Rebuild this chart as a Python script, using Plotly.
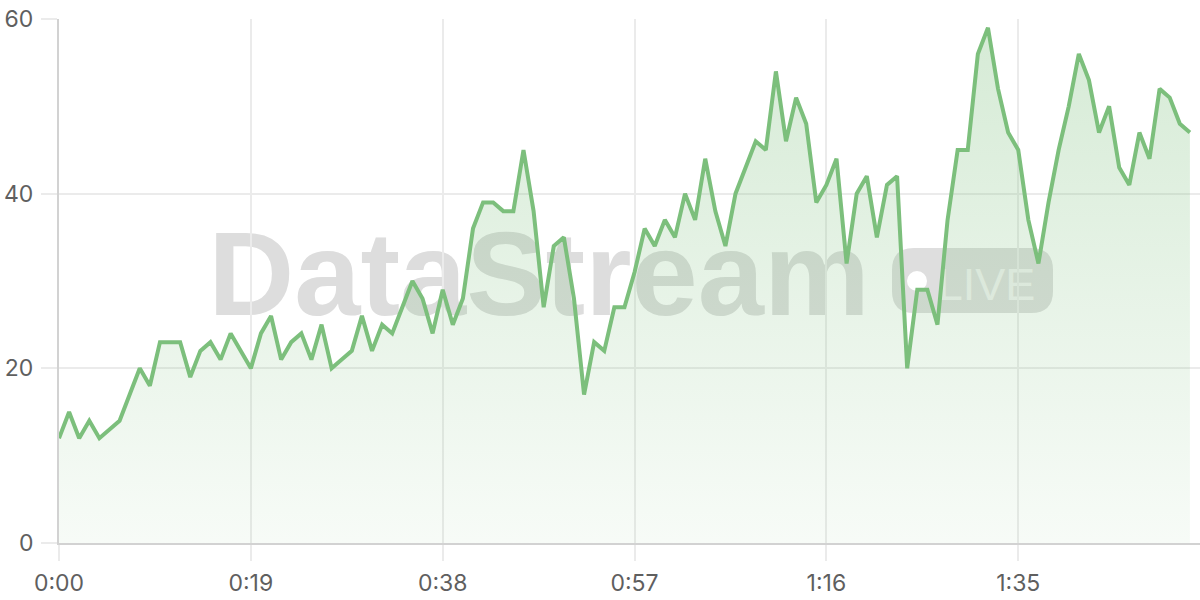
import plotly.graph_objects as go

# ---- data ----
values = [12, 15, 12, 14, 12, 13, 14, 17, 20, 18,
          23, 23, 23, 19, 22, 23, 21, 24, 22, 20,
          24, 26, 21, 23, 24, 21, 25, 20, 21, 22,
          26, 22, 25, 24, 27, 30, 28, 24, 29, 25,
          28, 36, 39, 39, 38, 38, 45, 38, 27, 34,
          35, 28, 17, 23, 22, 27, 27, 31, 36, 34,
          37, 35, 40, 37, 44, 38, 34, 40, 43, 46,
          45, 54, 46, 51, 48, 39, 41, 44, 32, 40,
          42, 35, 41, 42, 20, 29, 29, 25, 37, 45,
          45, 56, 59, 52, 47, 45, 37, 32, 39, 45,
          50, 56, 53, 47, 50, 43, 41, 47, 44, 52,
          51, 48, 47]
seconds = list(range(len(values)))
x_tickvals = [0, 19, 38, 57, 76, 95]
x_ticktext = ["0:00", "0:19", "0:38", "0:57", "1:16", "1:35"]
y_tickvals = [0, 20, 40, 60]
watermark_text = "DataStream"
badge_text = "LIVE"

LINE = "rgb(124,191,124)"
GRID = "#ebebeb"
AXIS = "#d2d2d2"

fig = go.Figure()
fig.add_trace(go.Scatter(
    x=seconds, y=values, mode="lines",
    line=dict(color=LINE, width=4, shape="linear"),
    fill="tozeroy",
    fillgradient=dict(type="vertical", start=0, stop=60,
                      colorscale=[[0, "rgba(124,191,124,0.06)"],
                                  [1, "rgba(124,191,124,0.32)"]]),
    hoverinfo="skip", showlegend=False,
))

# plot area in pixels
L, R, T, B = 59, 1200, 19, 543
def px(xp):
    return (xp - L) / (R - L)
def py(yp):
    return (B - yp) / (B - T)

shapes = []
# watermark text
shapes.append(dict(
    type="rect", xref="paper", yref="paper", layer="below",
    x0=px(198), x1=px(880), y0=py(322), y1=py(202),
    line=dict(width=0), fillcolor="rgba(0,0,0,0)",
    label=dict(text=watermark_text, textposition="middle center",
               font=dict(family="Liberation Sans", size=119, color="#dddddd", weight="bold")),
))
# LIVE badge (rounded rect)
bx0, bx1, by0, by1, r = 892, 1053, 248, 313, 22
path = (f"M {px(bx0 + r)},{py(by0)} L {px(bx1 - r)},{py(by0)} "
        f"Q {px(bx1)},{py(by0)} {px(bx1)},{py(by0 + r)} "
        f"L {px(bx1)},{py(by1 - r)} Q {px(bx1)},{py(by1)} {px(bx1 - r)},{py(by1)} "
        f"L {px(bx0 + r)},{py(by1)} Q {px(bx0)},{py(by1)} {px(bx0)},{py(by1 - r)} "
        f"L {px(bx0)},{py(by0 + r)} Q {px(bx0)},{py(by0)} {px(bx0 + r)},{py(by0)} Z")
shapes.append(dict(type="path", path=path, xref="paper", yref="paper", layer="below",
                   fillcolor="#dedede", line=dict(width=0)))
# dot
shapes.append(dict(type="circle", xref="paper", yref="paper", layer="below",
                   x0=px(907), x1=px(927), y0=py(291), y1=py(271),
                   fillcolor="#ffffff", line=dict(width=0)))
# LIVE text
shapes.append(dict(
    type="rect", xref="paper", yref="paper", layer="below",
    x0=px(930), x1=px(1043), y0=py(305), y1=py(255),
    line=dict(width=0), fillcolor="rgba(0,0,0,0)",
    label=dict(text=badge_text, textposition="middle center",
               font=dict(family="Liberation Sans", size=45, color="#f2f2f2")),
))

W, H = 1200, 600
fig.update_layout(
    width=W, height=H,
    margin=dict(l=L, r=W - R, t=T, b=H - B, autoexpand=False),
    paper_bgcolor="white", plot_bgcolor="white",
    shapes=shapes,
    font=dict(family="Inter", size=23, color="#5f5f5f"),
)
fig.update_xaxes(
    range=[0, 113], tickvals=x_tickvals, ticktext=x_ticktext,
    showgrid=True, gridcolor=GRID, gridwidth=1.5,
    ticks="outside", ticklen=16, tickcolor=GRID, tickwidth=1.5,
    showline=True, linecolor=AXIS, linewidth=2,
    zeroline=False, ticklabelstandoff=2, automargin=False,
    ticklabeloverflow="allow",
)
fig.update_yaxes(
    range=[0, 60], tickvals=y_tickvals,
    showgrid=True, gridcolor=GRID, gridwidth=1.5,
    ticks="outside", ticklen=16, tickcolor=GRID, tickwidth=1.5,
    showline=True, linecolor=AXIS, linewidth=2,
    zeroline=False, ticklabelstandoff=3, automargin=False,
    ticklabeloverflow="allow",
)

fig.write_html("out.html", config={"displayModeBar": False},
               post_script="document.body.style.margin='0px';")
